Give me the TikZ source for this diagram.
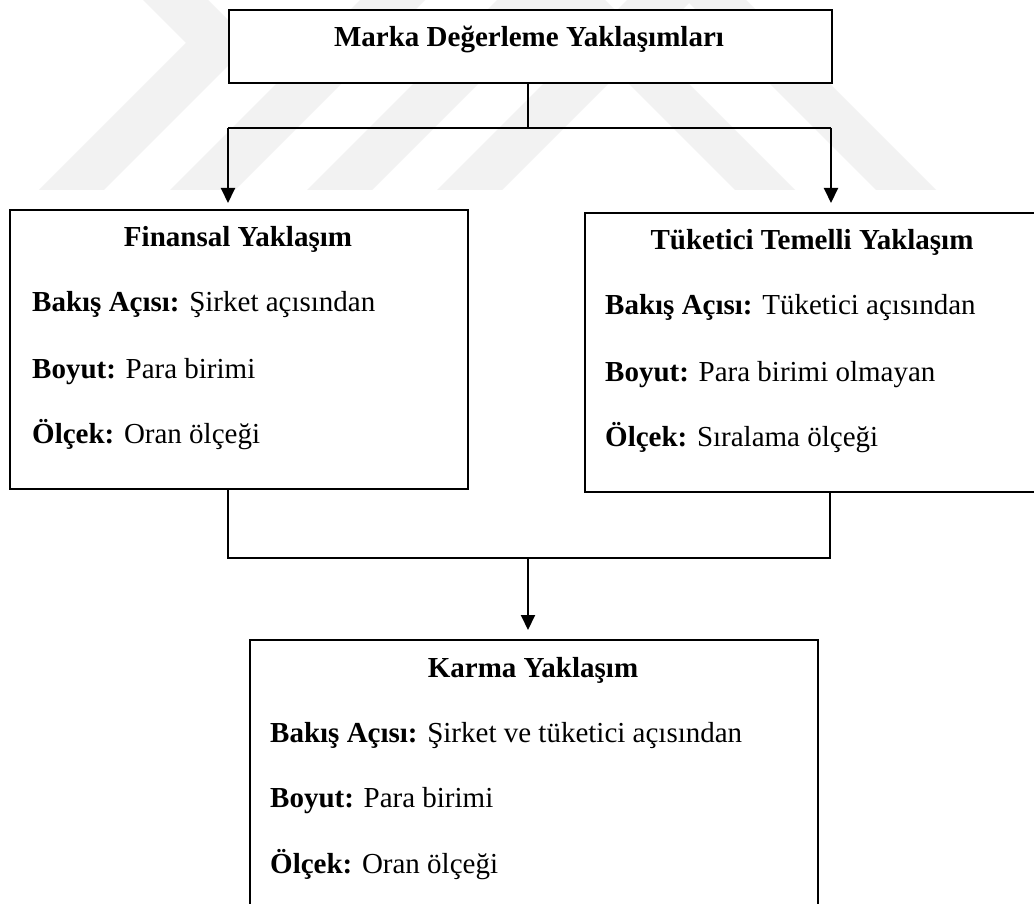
\documentclass[tikz,border=0pt]{standalone}
\usepackage{fontspec}
\setmainfont{Liberation Serif}
\usetikzlibrary{arrows.meta}

\definecolor{wmgray}{gray}{0.95}

\tikzset{
  box/.style={draw, fill=white, line width=2pt, inner sep=0pt, anchor=north west},
  head/.style={anchor=base, inner sep=0pt, font=\fontsize{29}{35}\selectfont\bfseries},
  item/.style={anchor=base west, inner sep=0pt, font=\fontsize{29}{35}\selectfont},
  link/.style={line width=2pt},
  arr/.style={line width=2pt, -{Triangle[length=15pt,width=14pt]}},
  wm/.style={fill=wmgray}
}

\begin{document}
\begin{tikzpicture}[x=1pt, y=-1pt]
\useasboundingbox (0,0) rectangle (1034,904);
\clip (0,0) rectangle (1034,904);
\fill[white] (0,0) rectangle (1034,904);

% faint background logo stripes
\fill[wm] (143,0) -- (208,0) -- (251,43) -- (104,190) -- (39,190) -- (186,43) -- cycle;
\foreach \b in {170,307,437}
  \fill[wm] (\b,190) -- (\b+65,190) -- (\b+255,0) -- (\b+190,0) -- cycle;
\foreach \b in {735,876}
  \fill[wm] (\b,190) -- (\b+60,190) -- (\b-130,0) -- (\b-190,0) -- cycle;

% boxes
\node[box, minimum width=603pt, minimum height=73pt]  (top) at (228,9) {};
\node[box, minimum width=458pt, minimum height=279pt] (fin) at (9,209) {};
\node[box, minimum width=460pt, minimum height=279pt] (tuk) at (584,212) {};
\node[box, minimum width=568pt, minimum height=280pt] (kar) at (249,639) {};

% texts
\node[head] (topT) at (529,47) {Marka Değerleme Yaklaşımları};

\node[head] (finT) at (238,247) {Finansal Yaklaşım};
\node[item] (finA) at (32,312) {\textbf{Bakış Açısı:} Şirket açısından};
\node[item] (finB) at (32,378) {\textbf{Boyut:} Para birimi};
\node[item] (finC) at (32,443) {\textbf{Ölçek:} Oran ölçeği};

\node[head] (tukT) at (812,250) {Tüketici Temelli Yaklaşım};
\node[item] (tukA) at (605,315) {\textbf{Bakış Açısı:} Tüketici açısından};
\node[item] (tukB) at (605,381) {\textbf{Boyut:} Para birimi olmayan};
\node[item] (tukC) at (605,446) {\textbf{Ölçek:} Sıralama ölçeği};

\node[head] (karT) at (533,677) {Karma Yaklaşım};
\node[item] (karA) at (270,742) {\textbf{Bakış Açısı:} Şirket ve tüketici açısından};
\node[item] (karB) at (270,807) {\textbf{Boyut:} Para birimi};
\node[item] (karC) at (270,873) {\textbf{Ölçek:} Oran ölçeği};

% upper connectors
\coordinate (jl) at (228,128);
\coordinate (jm) at (528,128);
\coordinate (jr) at (831,128);
\draw[link] (jm |- top.south) -- (jm);
\draw[link] (jl) -- (jr);
\draw[arr, shorten >=6pt] (jl) -- (jl |- fin.north);
\draw[arr, shorten >=9pt] (jr) -- (jr |- tuk.north);

% lower connectors
\coordinate (ml) at (228,558);
\coordinate (mm) at (528,558);
\coordinate (mr) at (830,558);
\draw[link] (ml |- fin.south) -- (ml) -- (mr) -- (mr |- tuk.south);
\draw[arr, shorten >=9pt] (mm) -- (mm |- kar.north);
\end{tikzpicture}
\end{document}
